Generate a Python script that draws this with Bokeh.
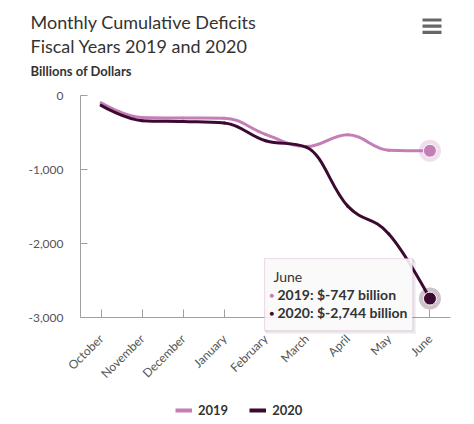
import math
from bokeh.plotting import figure
from bokeh.models import (Range1d, FixedTicker, NumeralTickFormatter, Label,
                          BoxAnnotation, Legend, LegendItem)
from bokeh.embed import file_html
from bokeh.resources import INLINE

# ---------------- data ----------------
months = ["October", "November", "December", "January", "February",
          "March", "April", "May", "June"]
fy2019 = [-100, -298, -305, -306, -525, -690, -531, -739, -747]
fy2020 = [-134, -340, -352, -372, -612, -700, -1495, -1870, -2744]
series_names = ["2019", "2020"]
y_ticks = [-3000, -2000, -1000, 0]
title_lines = ["Monthly Cumulative Deficits", "Fiscal Years 2019 and 2020"]
y_title = "Billions of Dollars"
tooltip_month = months[-1]

colors = ["#c47db6", "#3b0a30"]
FONT = "Lato"

# ---------------- layout (page pixels) ----------------
W, H = 470, 420
PL, PR, PT, PB = 80, 450, 95, 317     # plot area edges on the page
n = len(months)
dx0, dx1 = -0.5, n - 0.5
dy0, dy1 = y_ticks[0], y_ticks[-1]
xs_per_px = (dx1 - dx0) / (PR - PL)
ys_per_px = (dy1 - dy0) / (PB - PT)

p = figure(width=W, height=H, output_backend="svg", toolbar_location=None,
           x_range=Range1d(dx0 - PL * xs_per_px, dx1 + (W - PR) * xs_per_px),
           y_range=Range1d(dy0 - (H - PB) * ys_per_px, dy1 + PT * ys_per_px),
           min_border=0, min_border_left=0, min_border_right=0,
           min_border_top=0, min_border_bottom=0)
p.outline_line_color = None
p.xgrid.visible = False
p.ygrid.visible = False
p.background_fill_color = "white"
p.border_fill_color = "white"


def to_data(px, py):
    return dx0 + (px - PL) * xs_per_px, dy1 - (py - PT) * ys_per_px


# ---------------- axes ----------------
p.yaxis.fixed_location = dx0
p.yaxis.bounds = (dy0, dy1)
p.yaxis.ticker = FixedTicker(ticks=y_ticks)
p.yaxis.formatter = NumeralTickFormatter(format="0,0")
p.yaxis.major_tick_in = 7
p.yaxis.major_tick_out = 0
p.yaxis.minor_tick_line_color = None
p.yaxis.axis_line_color = "#a0a0a0"
p.yaxis.major_tick_line_color = "#a0a0a0"
p.yaxis.major_label_text_font = FONT
p.yaxis.major_label_text_font_size = "12px"
p.yaxis.major_label_text_color = "#555555"
p.yaxis.major_label_standoff = 17

p.xaxis.fixed_location = dy0
p.xaxis.bounds = (dx0, dx1)
p.xaxis.ticker = FixedTicker(ticks=list(range(n)))
p.xaxis.major_label_overrides = {i: m for i, m in enumerate(months)}
p.xaxis.major_label_orientation = math.pi / 4
p.xaxis.major_tick_in = 8
p.xaxis.major_tick_out = 0
p.xaxis.minor_tick_line_color = None
p.xaxis.axis_line_color = "#a0a0a0"
p.xaxis.major_tick_line_color = "#a0a0a0"
p.xaxis.major_label_text_font = FONT
p.xaxis.major_label_text_font_size = "12px"
p.xaxis.major_label_text_color = "#555555"
p.xaxis.major_label_standoff = 19


# ---------------- spline (Highcharts-like) ----------------
def spline_segments(ys):
    xs = list(range(len(ys)))
    m = len(ys)
    left = [(xs[i], ys[i]) for i in range(m)]
    right = [(xs[i], ys[i]) for i in range(m)]
    s = 1.5
    d = s + 1
    for i in range(1, m - 1):
        lx = (s * xs[i] + xs[i - 1]) / d
        ly = (s * ys[i] + ys[i - 1]) / d
        rx = (s * xs[i] + xs[i + 1]) / d
        ry = (s * ys[i] + ys[i + 1]) / d
        corr = ((ry - ly) * (rx - xs[i])) / (rx - lx) + ys[i] - ry
        ly += corr
        ry += corr
        if ly > ys[i - 1] and ly > ys[i]:
            ly = max(ys[i - 1], ys[i]); ry = 2 * ys[i] - ly
        elif ly < ys[i - 1] and ly < ys[i]:
            ly = min(ys[i - 1], ys[i]); ry = 2 * ys[i] - ly
        if ry > ys[i + 1] and ry > ys[i]:
            ry = max(ys[i + 1], ys[i]); ly = 2 * ys[i] - ry
        elif ry < ys[i + 1] and ry < ys[i]:
            ry = min(ys[i + 1], ys[i]); ly = 2 * ys[i] - ry
        left[i] = (lx, ly)
        right[i] = (rx, ry)
    seg = dict(x0=[], y0=[], x1=[], y1=[], cx0=[], cy0=[], cx1=[], cy1=[])
    for i in range(1, m):
        seg["x0"].append(xs[i - 1]); seg["y0"].append(ys[i - 1])
        seg["x1"].append(xs[i]); seg["y1"].append(ys[i])
        seg["cx0"].append(right[i - 1][0]); seg["cy0"].append(right[i - 1][1])
        seg["cx1"].append(left[i][0]); seg["cy1"].append(left[i][1])
    return seg


for ys, col in zip([fy2019, fy2020], colors):
    p.bezier(line_color=col, line_width=3, line_cap="round",
             **spline_segments(ys))

# hovered June markers with halo
for ys, col in zip([fy2019, fy2020], colors):
    p.scatter(x=[n - 1], y=[ys[-1]], size=22, fill_color=col, fill_alpha=0.25,
              line_color=None)
    p.scatter(x=[n - 1], y=[ys[-1]], size=13, fill_color=col,
              line_color="white", line_width=1)

# ---------------- legend ----------------
leg_r = [p.line(x=[n - 1], y=[ys[-1]], line_color=c, line_width=4)
         for ys, c in zip([fy2019, fy2020], colors)]
legend = Legend(items=[LegendItem(label=nm, renderers=[r])
                       for nm, r in zip(series_names, leg_r)],
                orientation="horizontal", location=(175, H - 418),
                padding=0, margin=0, spacing=21, glyph_width=17,
                glyph_height=16, label_height=16, label_standoff=6,
                border_line_color=None, background_fill_alpha=0,
                label_text_font=FONT, label_text_font_size="13px",
                label_text_font_style="bold", label_text_color="#333333")
p.add_layout(legend)

# ---------------- tooltip ----------------
for off, alpha in [(3, 0.05), (2, 0.08), (1, 0.12)]:
    sl, st = to_data(264 + off, 258 + off)
    sr, sb = to_data(412 + off, 330 + off)
    p.add_layout(BoxAnnotation(left=sl, right=sr, top=st, bottom=sb,
                               fill_alpha=0, line_color="black",
                               line_alpha=alpha, line_width=1,
                               level="overlay"))
bl, bt = to_data(264, 258)
br, bb = to_data(412, 330)
p.add_layout(BoxAnnotation(left=bl, right=br, top=bt, bottom=bb,
                           fill_color="#f9f9f9", fill_alpha=0.9,
                           line_color="#c98fbf", line_width=1,
                           level="overlay"))


def lab(px, py, text, size, color="#333333", style="normal", font=FONT,
        align="left", baseline="middle"):
    xd, yd = to_data(px, py)
    p.add_layout(Label(x=xd, y=yd, text=text, text_font=font,
                       text_font_size=size, text_color=color,
                       text_font_style=style, text_align=align,
                       text_baseline=baseline, level="overlay"))


lab(273, 276, tooltip_month, "14px")
lab(269, 294, "\u25cf", "8px", color=colors[0])
lab(277, 294, f"{series_names[0]}: ${fy2019[-1]:,} billion", "14px", style="bold")
lab(269, 312, "\u25cf", "8px", color=colors[1])
lab(277, 312, f"{series_names[1]}: ${fy2020[-1]:,} billion", "14px", style="bold")

# ---------------- titles ----------------
lab(30, 21, title_lines[0], "18px")
lab(30, 45, title_lines[1], "18px")
lab(30, 70, y_title, "13px", style="bold")

# menu icon (three bars)
for yc in (19.5, 25.7, 31.8):
    l, t = to_data(422, yc - 1.6)
    r, b = to_data(441, yc + 1.6)
    p.add_layout(BoxAnnotation(left=l, right=r, top=t, bottom=b,
                               fill_color="#666666", fill_alpha=1,
                               line_color=None, level="overlay"))

open("out.html", "w").write(file_html(p, INLINE))
